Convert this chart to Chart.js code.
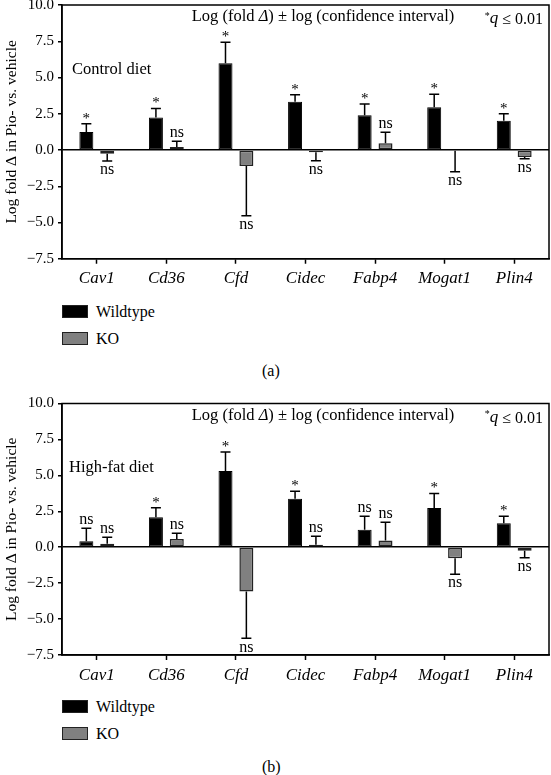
<!DOCTYPE html>
<html lang="en">
<head>
<meta charset="UTF-8">
<title>Pio vs vehicle</title>
<style>
  body{margin:0;background:#fff;}
  #wrap{position:relative;width:551px;height:775px;font-family:'Liberation Serif',serif;color:#000;}
  canvas{position:absolute;left:0;}
  .leg{position:absolute;left:62px;font-size:16px;display:flex;align-items:center;height:13px;}
  .leg span.box{display:inline-block;width:24px;height:11px;border:1px solid #222;margin-right:8px;}
  .cap{position:absolute;left:262px;font-size:16px;}
</style>
</head>
<body>
<div id="wrap">
  <canvas id="c1" width="551" height="310" style="top:-10px"></canvas>
  <div class="leg" style="top:305px"><span class="box" style="background:#000"></span>Wildtype</div>
  <div class="leg" style="top:332px"><span class="box" style="background:#808080"></span>KO</div>
  <div class="cap" style="top:362px">(a)</div>

  <canvas id="c2" width="551" height="300" style="top:390px"></canvas>
  <div class="leg" style="top:700px"><span class="box" style="background:#000"></span>Wildtype</div>
  <div class="leg" style="top:727px"><span class="box" style="background:#808080"></span>KO</div>
  <div class="cap" style="top:758px">(b)</div>
</div>

<script src="https://cdn.jsdelivr.net/npm/chart.js"></script>
<script>
const genes = ['Cav1', 'Cd36', 'Cfd', 'Cidec', 'Fabp4', 'Mogat1', 'Plin4']
const yTicks = [-7.5, -5, -2.5, 0, 2.5, 5, 7.5, 10]

// control diet
const ctrlWT = [1.25, 2.25, 5.98, 3.33, 2.39, 2.94, 2.02]
const ctrlWTErr = [0.56, 0.62, 1.45, 0.48, 0.78, 0.9, 0.48]
const ctrlKO = [-0.25, 0.2, -1.1, -0.16, 0.46, -0.05, -0.48]
const ctrlKOErr = [0.51, 0.4, 3.43, 0.58, 0.76, 1.45, 0.12]
const ctrlWTSig = ['*', '*', '*', '*', '*', '*', '*']
const ctrlKOSig = ['ns', 'ns', 'ns', 'ns', 'ns', 'ns', 'ns']

// high-fat diet
const hfWT = [0.42, 2.09, 5.3, 3.37, 1.21, 2.72, 1.67]
const hfWTErr = [0.9, 0.65, 1.32, 0.53, 0.95, 1.02, 0.49]
const hfKO = [0.24, 0.58, -3.09, 0.17, 0.47, -0.77, -0.25]
const hfKOErr = [0.46, 0.4, 3.25, 0.6, 1.27, 1.11, 0.49]
const hfWTSig = ['ns', '*', '*', '*', 'ns', '*', '*']
const hfKOSig = ['ns', 'ns', 'ns', 'ns', 'ns', 'ns', 'ns']

const serif = "'Liberation Serif', serif"

// error bars, significance marks, box and in-plot texts
const extras = {
  id: 'extras',
  afterDatasetsDraw(chart, args, opts) {
    const c = chart.ctx
    const y = chart.scales.y
    const a = chart.chartArea
    c.save()
    c.strokeStyle = '#000'
    c.fillStyle = '#000'
    c.lineWidth = 1.5
    chart.data.datasets.forEach((ds, di) => {
      const meta = chart.getDatasetMeta(di)
      meta.data.forEach((bar, i) => {
        const v = ds.data[i]
        const sign = v < 0 ? -1 : 1
        const yEnd = y.getPixelForValue(v + sign * ds.err[i])
        c.beginPath()
        c.moveTo(bar.x, bar.y)
        c.lineTo(bar.x, yEnd)
        c.moveTo(bar.x - 5, yEnd)
        c.lineTo(bar.x + 5, yEnd)
        c.stroke()
        const s = ds.sig[i]
        c.textAlign = 'center'
        if (s === '*') {
          c.font = '15px ' + serif
          c.textBaseline = 'alphabetic'
          c.fillText('*', bar.x, yEnd - 1)
        } else {
          c.font = '16px ' + serif
          if (sign > 0) { c.textBaseline = 'alphabetic'; c.fillText(s, bar.x, yEnd - 4) }
          else { c.textBaseline = 'top'; c.fillText(s, bar.x, yEnd + 1) }
        }
      })
    })
    // plot frame
    c.lineWidth = 1.5
    c.strokeRect(a.left, a.top, a.right - a.left, a.bottom - a.top)

    // header texts
    c.textBaseline = 'middle'
    c.textAlign = 'left'
    const hy = a.top + 12
    const parts = [['Log (fold ', ''], ['\u0394', 'italic '], [') \u00b1 log (confidence interval)', '']]
    let total = 0
    parts.forEach(p => { c.font = p[1] + '16.5px ' + serif; total += c.measureText(p[0]).width })
    let x = a.left + 261 - total / 2
    parts.forEach(p => { c.font = p[1] + '16.5px ' + serif; c.fillText(p[0], x, hy); x += c.measureText(p[0]).width })

    // *q <= 0.01
    c.font = '16px ' + serif
    const tail = ' \u2264 0.01'
    const tw = c.measureText(tail).width
    c.font = 'italic 17px ' + serif
    const qw = c.measureText('q').width
    c.font = '10px ' + serif
    const sw = c.measureText('*').width
    let rx = a.right - 6 - tw - qw - sw
    c.fillText('*', rx, hy - 1)
    rx += sw
    c.font = 'italic 17px ' + serif
    c.fillText('q', rx, hy + 2)
    rx += qw
    c.font = '16px ' + serif
    c.fillText(tail, rx, hy + 3)

    c.font = '16.5px ' + serif
    c.fillText(opts.label, a.left + opts.labelDx, a.top + opts.labelDy)
    c.restore()
  }
}

function makeChart(id, wt, wtErr, wtSig, ko, koErr, koSig, padTop, axisH, label, labelDx, labelDy) {
  return new Chart(document.getElementById(id), {
    type: 'bar',
    data: {
      labels: genes,
      datasets: [
        {label: 'Wildtype', data: wt, err: wtErr, sig: wtSig, backgroundColor: '#000', borderColor: '#000', borderWidth: 1, borderSkipped: false},
        {label: 'KO', data: ko, err: koErr, sig: koSig, backgroundColor: '#808080', borderColor: '#222', borderWidth: 1.5, borderSkipped: false}
      ]
    },
    options: {
      responsive: false,
      animation: false,
      events: [],
      categoryPercentage: 0.6,
      barPercentage: 0.67,
      layout: {padding: {top: padTop, right: 2, left: 0, bottom: 0}},
      plugins: {
        legend: {display: false},
        tooltip: {enabled: false},
        extras: {label: label, labelDx: labelDx, labelDy: labelDy}
      },
      scales: {
        x: {
          afterFit: s => { s.height = axisH },
          grid: {drawOnChartArea: false, offset: false, color: '#000', tickLength: 5, tickWidth: 1.5},
          border: {color: '#000', width: 1.5},
          ticks: {color: '#000', padding: 5, font: {family: serif, size: 17, style: 'italic'}}
        },
        y: {
          min: -7.5,
          max: 10,
          afterFit: s => { s.width = 62 },
          afterBuildTicks: s => { s.ticks = yTicks.map(v => ({value: v})) },
          grid: {
            color: c => (c.tick && c.tick.value === 0) ? '#000' : 'rgba(0,0,0,0)',
            lineWidth: 1.5,
            tickColor: '#000',
            tickLength: 4,
            tickWidth: 1.5
          },
          border: {color: '#000', width: 1.5},
          ticks: {
            color: '#000',
            padding: 4,
            font: {family: serif, size: 15},
            callback: v => (v < 0 ? '\u2212' : '') + Math.abs(v).toFixed(1)
          },
          title: {
            display: true,
            text: 'Log fold \u0394 in Pio- vs. vehicle',
            color: '#000',
            padding: {top: 3, bottom: 0},
            font: {family: serif, size: 15.5}
          }
        }
      }
    },
    plugins: [extras]
  })
}

makeChart('c1', ctrlWT, ctrlWTErr, ctrlWTSig, ctrlKO, ctrlKOErr, ctrlKOSig, 15, 41.25, 'Control diet', 10, 65)
makeChart('c2', hfWT, hfWTErr, hfWTSig, hfKO, hfKOErr, hfKOSig, 13.5, 35, 'High-fat diet', 7, 64)
</script>
</body>
</html>
